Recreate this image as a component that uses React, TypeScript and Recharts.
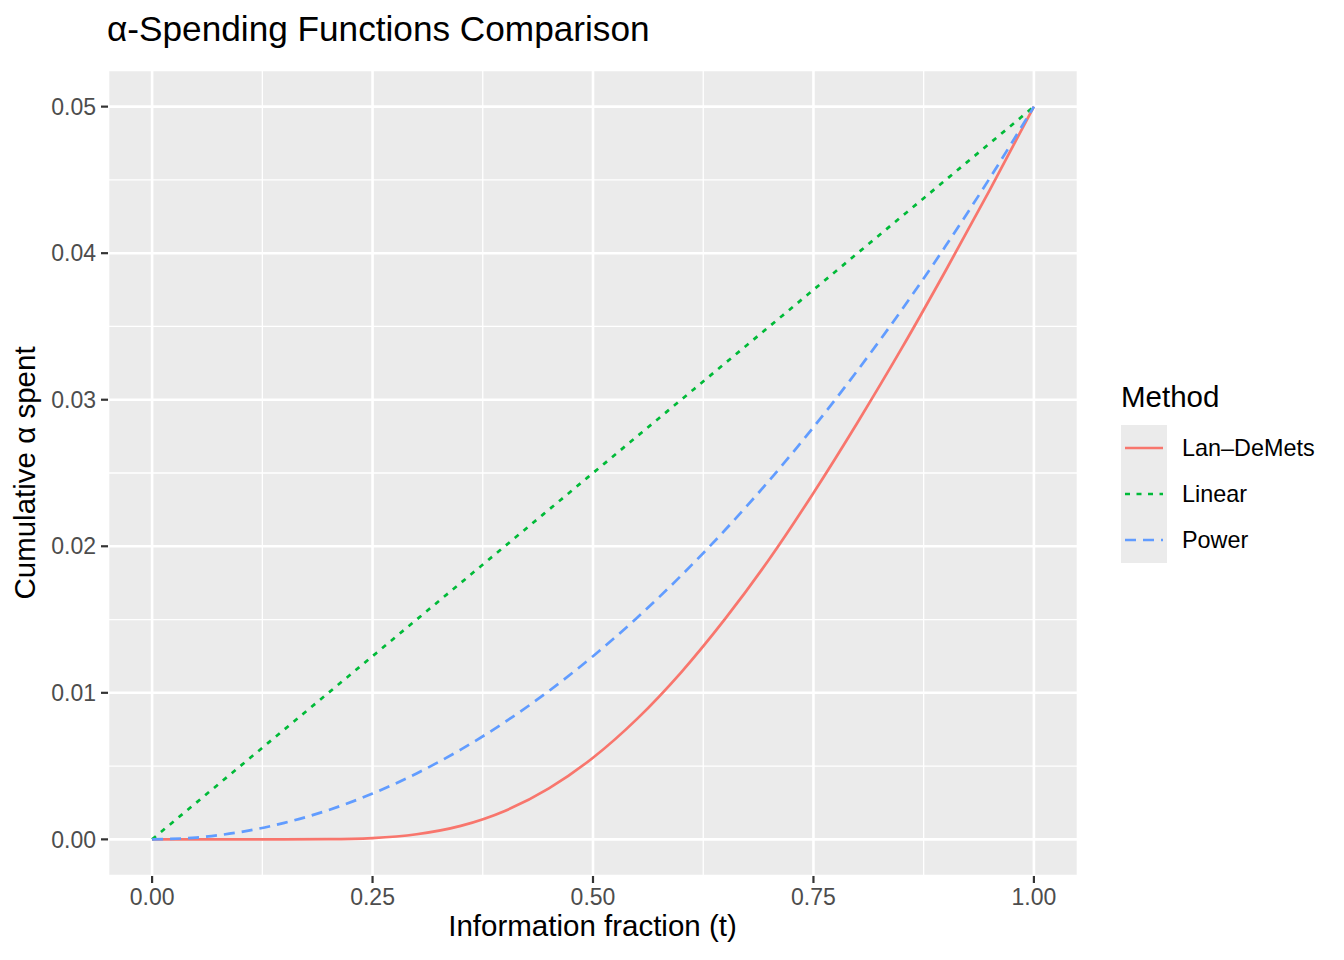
import { LineChart, Line, XAxis, YAxis, CartesianGrid, ReferenceLine } from "recharts";

// information fraction t
const T = [
  0, 0.05, 0.1, 0.15, 0.2, 0.25, 0.3, 0.35, 0.4, 0.45, 0.5, 0.55, 0.6, 0.65,
  0.7, 0.75, 0.8, 0.85, 0.9, 0.95, 1,
];
// cumulative alpha spent
const LAN_DEMETS = [
  0, 0, 0, 0.0000004, 0.000012, 0.000089, 0.00035, 0.00092, 0.00194, 0.00348,
  0.00557, 0.00822, 0.0114, 0.01506, 0.01913, 0.02364, 0.02845, 0.0335,
  0.03882, 0.04432, 0.05,
];
const LINEAR = [
  0, 0.0025, 0.005, 0.0075, 0.01, 0.0125, 0.015, 0.0175, 0.02, 0.0225, 0.025,
  0.0275, 0.03, 0.0325, 0.035, 0.0375, 0.04, 0.0425, 0.045, 0.0475, 0.05,
];
const POWER = [
  0, 0.000125, 0.0005, 0.001125, 0.002, 0.003125, 0.0045, 0.006125, 0.008,
  0.010125, 0.0125, 0.015125, 0.018, 0.021125, 0.0245, 0.028125, 0.032,
  0.036125, 0.0405, 0.045125, 0.05,
];
const METHODS = ["Lan–DeMets", "Linear", "Power"];
const X_TICKS = [0, 0.25, 0.5, 0.75, 1];
const Y_TICKS = [0, 0.01, 0.02, 0.03, 0.04, 0.05];
const X_MINOR = [0.125, 0.375, 0.625, 0.875];
const Y_MINOR = [0.005, 0.015, 0.025, 0.035, 0.045];

const KEYS = ["lan", "linear", "power"];
const COLORS = ["#F8766D", "#00BA38", "#619CFF"];
const DASHES = [undefined, "5 6.5", "11 7"];

const FONT = "'Liberation Sans', Arial, Helvetica, sans-serif";
const PANEL = "#EBEBEB";

const rows = T.map((t, i) => ({
  t,
  lan: LAN_DEMETS[i],
  linear: LINEAR[i],
  power: POWER[i],
}));

export default function App() {
  return (
    <div style={{ position: "relative", width: 1344, height: 960, fontFamily: FONT, background: "#fff" }}>
      <style>{"body{margin:0}"}</style>
      <LineChart
        width={1344}
        height={960}
        data={rows}
        margin={{ top: 70, right: 266, bottom: 0, left: 0 }}
        style={{ fontFamily: FONT }}
      >
        <CartesianGrid fill={PANEL} stroke="#ffffff" strokeWidth={2.6} />
        {X_MINOR.map((x) => (
          <ReferenceLine key={"x" + x} x={x} stroke="#ffffff" strokeWidth={1.3} />
        ))}
        {Y_MINOR.map((y) => (
          <ReferenceLine key={"y" + y} y={y} stroke="#ffffff" strokeWidth={1.3} />
        ))}
        <XAxis
          dataKey="t"
          type="number"
          domain={[-0.05, 1.05]}
          ticks={X_TICKS}
          tickFormatter={(v) => v.toFixed(2)}
          axisLine={false}
          tickLine={{ stroke: "#333333", strokeWidth: 2.2 }}
          tickSize={7}
          tickMargin={6}
          height={84}
          tick={{ fill: "#4D4D4D", fontSize: 23 }}
          allowDataOverflow
        />
        <YAxis
          type="number"
          domain={[-0.0025, 0.0525]}
          ticks={Y_TICKS}
          tickFormatter={(v) => v.toFixed(2)}
          axisLine={false}
          tickLine={{ stroke: "#333333", strokeWidth: 2.2 }}
          tickSize={7}
          tickMargin={5}
          width={108}
          tick={{ fill: "#4D4D4D", fontSize: 23 }}
          allowDataOverflow
        />
        {KEYS.map((k, i) => (
          <Line
            key={k}
            dataKey={k}
            name={METHODS[i]}
            type="monotone"
            stroke={COLORS[i]}
            strokeWidth={2.7}
            strokeDasharray={DASHES[i]}
            dot={false}
            activeDot={false}
            isAnimationActive={false}
          />
        ))}
      </LineChart>
      <svg
        width={1344}
        height={960}
        style={{ position: "absolute", left: 0, top: 0, pointerEvents: "none", fontFamily: FONT }}
      >
        <text x={107} y={41} fontSize={35.2} fill="#000">
          α-Spending Functions Comparison
        </text>
        <text x={592.5} y={936} fontSize={29.5} fill="#000" textAnchor="middle">
          Information fraction (t)
        </text>
        <text
          x={35}
          y={473}
          fontSize={29.5}
          fill="#000"
          textAnchor="middle"
          transform="rotate(-90 35 473)"
        >
          Cumulative α spent
        </text>
        <text x={1121} y={407} fontSize={29.5} fill="#000">
          Method
        </text>
        {METHODS.map((m, i) => {
          const cy = 448 + i * 46;
          return (
            <g key={m}>
              <rect x={1121} y={cy - 23} width={46} height={46} fill={PANEL} />
              <line
                x1={1125}
                x2={1163}
                y1={cy}
                y2={cy}
                stroke={COLORS[i]}
                strokeWidth={2.7}
                strokeDasharray={DASHES[i]}
              />
              <text x={1182} y={cy} fontSize={23.4} fill="#000" dominantBaseline="central">
                {m}
              </text>
            </g>
          );
        })}
      </svg>
    </div>
  );
}
